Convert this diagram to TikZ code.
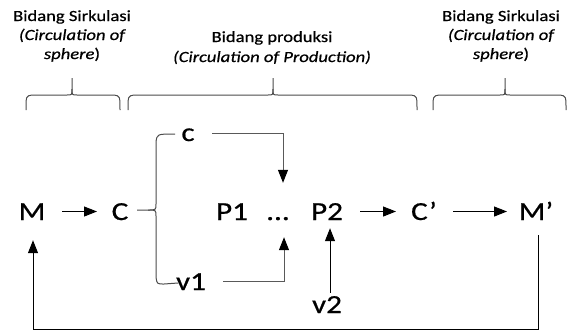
\documentclass[tikz,border=0pt]{standalone}
\usepackage{fontspec}
\setmainfont{Carlito}[FakeStretch=1.2, FakeBold=0.6]
\usetikzlibrary{arrows.meta}
\tikzset{
  mainlbl/.style={font=\fontsize{26}{30}\selectfont, inner sep=0pt, anchor=base, text height=17pt, text depth=0pt},
  toplbl/.style={font=\fontsize{15.5}{19}\selectfont, inner sep=0pt, anchor=base},
  arr/.style={draw=black, line width=1pt, -{Triangle[length=13pt,width=10pt,color=black]}},
  grayarr/.style={draw=black!65, line width=1pt, -{Triangle[length=13pt,width=10pt,color=black]}},
  bracestyle/.style={draw=black!70, line width=1pt},
}
\newcommand\hbrace[3]{%
  \draw[bracestyle] (#1,110) .. controls (#1,96) .. ({#1+6},95) -- ({#2-5},95) .. controls (#2,95) .. (#2,89) -- (#2,78);
  \draw[bracestyle] (#2,89) .. controls (#2,95) .. ({#2+5},95) -- ({#3-6},95) .. controls (#3,96) .. (#3,110);}
\begin{document}
\begin{tikzpicture}[x=1pt,y=-1pt]
\useasboundingbox[fill=white] (0,0) rectangle (569,333);
% top labels
\node[toplbl] (l1a) at (72,21) {Bidang Sirkulasi};
\node[toplbl] (l1b) at (72,40) {\itshape (Circulation of};
\node[toplbl] (l1c) at (72,59) {\textit{sphere})};
\node[toplbl] (l2a) at (272,42) {Bidang produksi};
\node[toplbl] (l2b) at (272,62) {\itshape (Circulation of Production)};
\node[toplbl] (l3a) at (501,21) {Bidang Sirkulasi};
\node[toplbl] (l3b) at (501,40) {\itshape (Circulation of};
\node[toplbl] (l3c) at (501,59) {\textit{sphere})};
% top braces
\hbrace{26}{72}{120}
\hbrace{128}{273}{417}
\hbrace{433}{505}{566}
% main row
\node[mainlbl] (M) at (32,220) {M};
\node[mainlbl] (C) at (120,220) {C};
\node[mainlbl] (P1) at (232,220) {P1};
\node[mainlbl] (dots) at (278,220) {...};
\node[mainlbl] (P2) at (327,220) {P2};
\node[mainlbl] (Cp) at (424,220) {C’};
\node[mainlbl] (Mp) at (536,220) {M’};
\node[mainlbl] (c) at (188,141) {c};
\node[mainlbl] (v1) at (191,290) {v1};
\node[mainlbl] (v2) at (327,313) {v2};
% brace from C
\draw[bracestyle] (175,134) .. controls (157,134) .. (156,142) -- (156,204) .. controls (156,210) .. (148,210) -- (137,210);
\draw[bracestyle] (148,210) .. controls (156,210) .. (156,216) -- (156,277) .. controls (157,284) .. (164,284) -- (178,283);
% arrows
\coordinate (ctop) at (283,133);
\coordinate (vbot) at (284,281);
\coordinate (bl) at (33,329);
\draw[arr] ([xshift=30pt]M.center) -- ([xshift=-23pt]C.center);
\draw[arr] ([xshift=33pt]P2.center) -- ([xshift=-28pt]Cp.center);
\draw[arr] ([xshift=29pt]Cp.center) -- ([xshift=-29pt]Mp.center);
\draw[grayarr] ([xshift=24pt]c.center |- ctop) -- (ctop) -- ([xshift=5pt,yshift=20pt]dots.north);
\draw[grayarr] ([xshift=32pt]v1.center |- vbot) -- (vbot) -- ([xshift=6pt,yshift=-17pt]dots.south);
\draw[arr] ([xshift=3pt,yshift=3pt]v2.north) -- ([xshift=3pt,yshift=-8pt]P2.south);
\draw[arr] ([xshift=2pt,yshift=-15pt]Mp.south) |- (bl) -- ([xshift=1pt,yshift=-20pt]M.south);
\end{tikzpicture}
\end{document}
